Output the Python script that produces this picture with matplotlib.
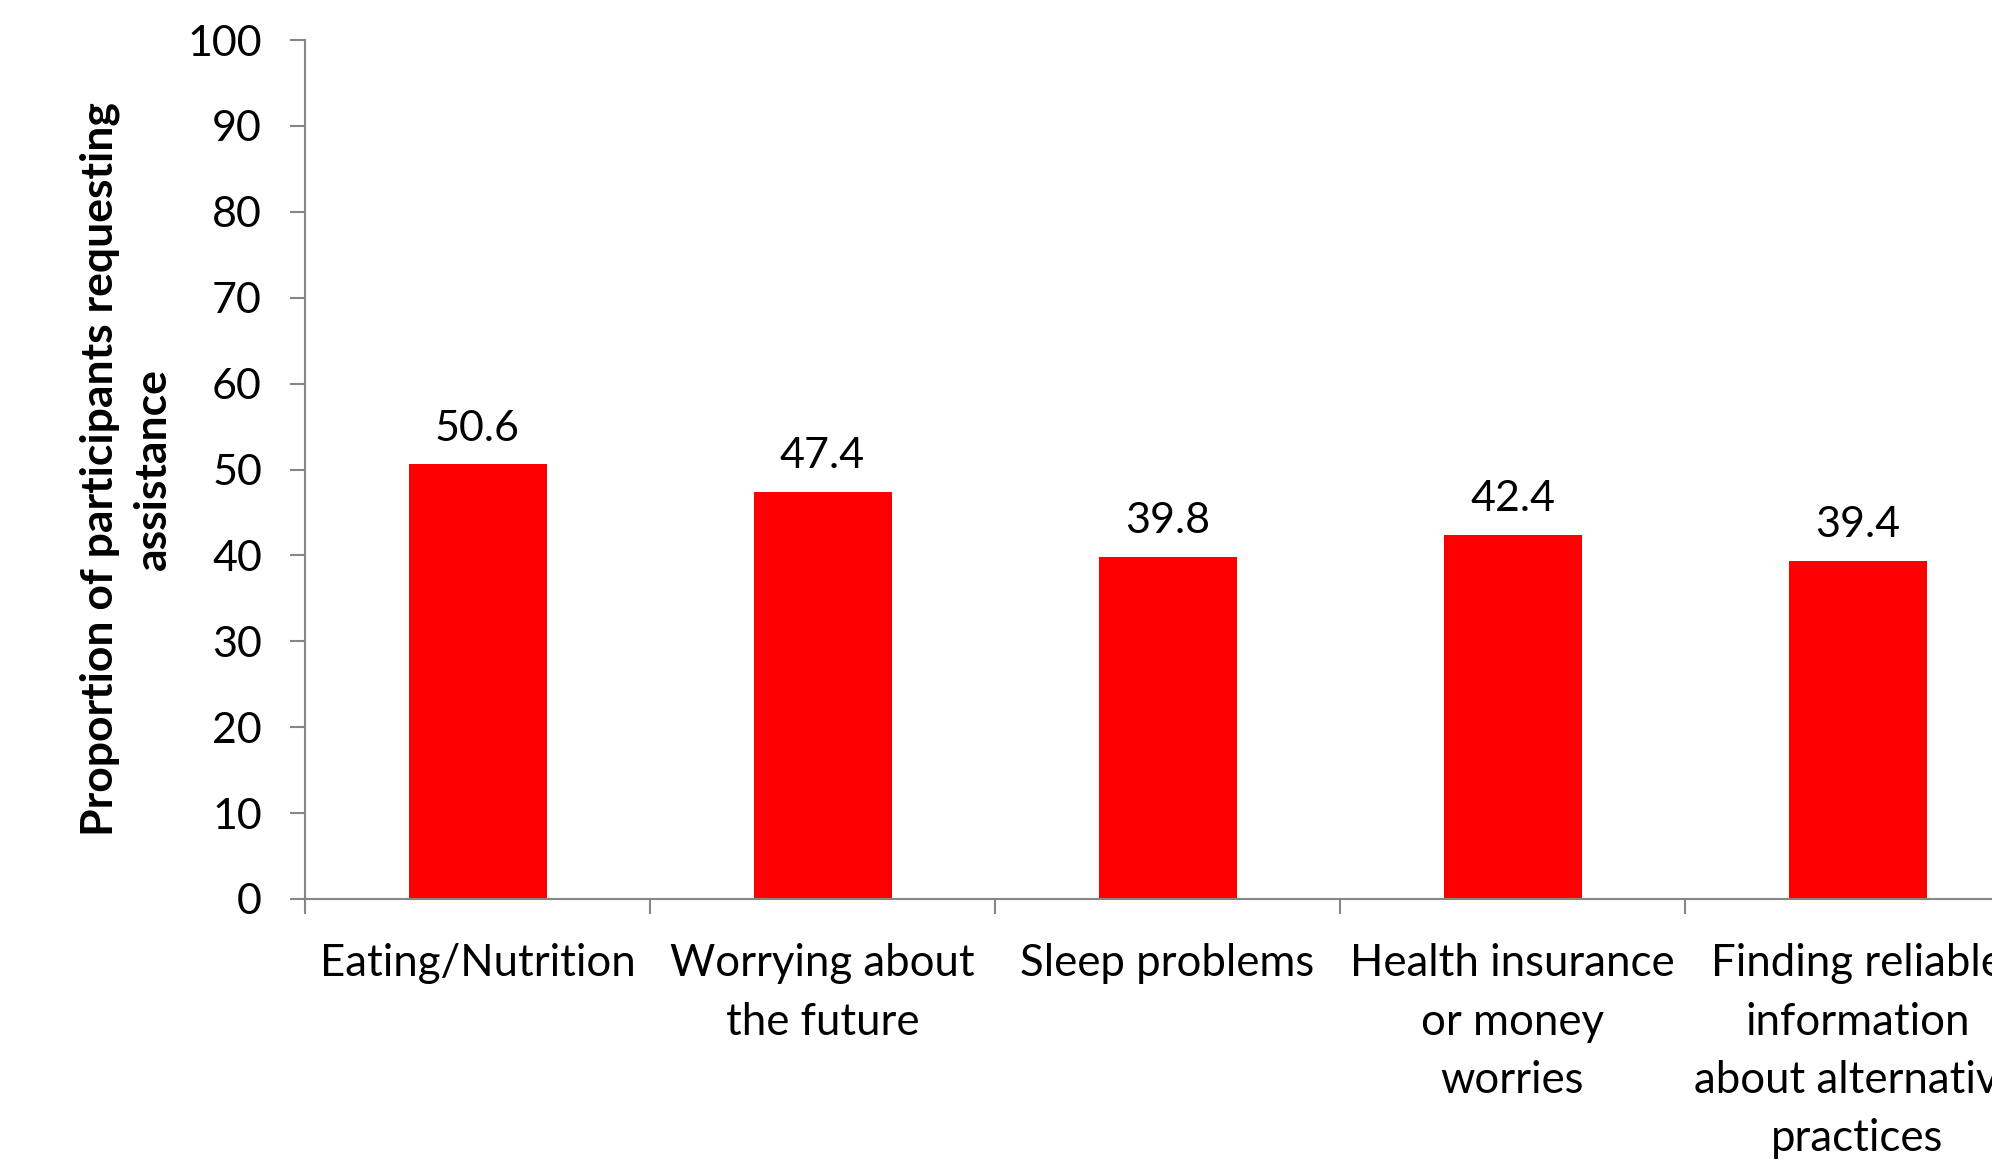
import matplotlib
matplotlib.use("Agg")
import matplotlib.pyplot as plt

categories = ["Eating/Nutrition", "Worrying about\nthe future", "Sleep problems",
              "Health insurance\nor money\nworries",
              "Finding reliable\ninformation\nabout alternative\npractices"]
values = [50.6, 47.4, 39.8, 42.4, 39.4]
yticks = [0, 10, 20, 30, 40, 50, 60, 70, 80, 90, 100]

plt.rcParams['font.family'] = ['Lato', 'DejaVu Sans']

W, H = 1992, 1161
fig = plt.figure(figsize=(W / 100, H / 100), dpi=100)
x0, x1 = 305, 2030
y0, y1 = 899, 40
ax = fig.add_axes([x0 / W, (H - y0) / H, (x1 - x0) / W, (y0 - y1) / H])

pos = list(range(len(categories)))
ax.bar(pos, values, width=0.4, color="#FF0000")
ax.set_xlim(-0.5, len(categories) - 0.5)
ax.set_ylim(0, 100)

gray = "#868686"
for s in ["top", "right"]:
    ax.spines[s].set_visible(False)
for s in ["left", "bottom"]:
    ax.spines[s].set_color(gray)
    ax.spines[s].set_linewidth(1.5)

ax.set_yticks(yticks)
ax.set_yticklabels([str(t) for t in yticks], fontsize=31)
ax.tick_params(axis="y", direction="out", length=11, width=1.5, color=gray, pad=20)

ax.set_xticks([p - 0.5 for p in pos] + [len(pos) - 0.5])
ax.set_xticklabels([])
ax.tick_params(axis="x", direction="out", length=11, width=1.5, color=gray)
ax.set_xticks(pos, minor=True)
ax.set_xticklabels(categories, minor=True, fontsize=31.5, linespacing=1.52)
ax.tick_params(axis="x", which="minor", length=0, pad=32)

for p, v in zip(pos, values):
    ax.annotate(f"{v}", (p, v), xytext=(0, 12), textcoords="offset points",
                ha="center", va="bottom", fontsize=31)

ax.set_ylabel("Proportion of participants requesting\nassistance", fontsize=32,
              fontweight="bold", linespacing=1.4)
ax.yaxis.set_label_coords(-0.0765, 0.5)

fig.savefig("out.png", dpi=100)
